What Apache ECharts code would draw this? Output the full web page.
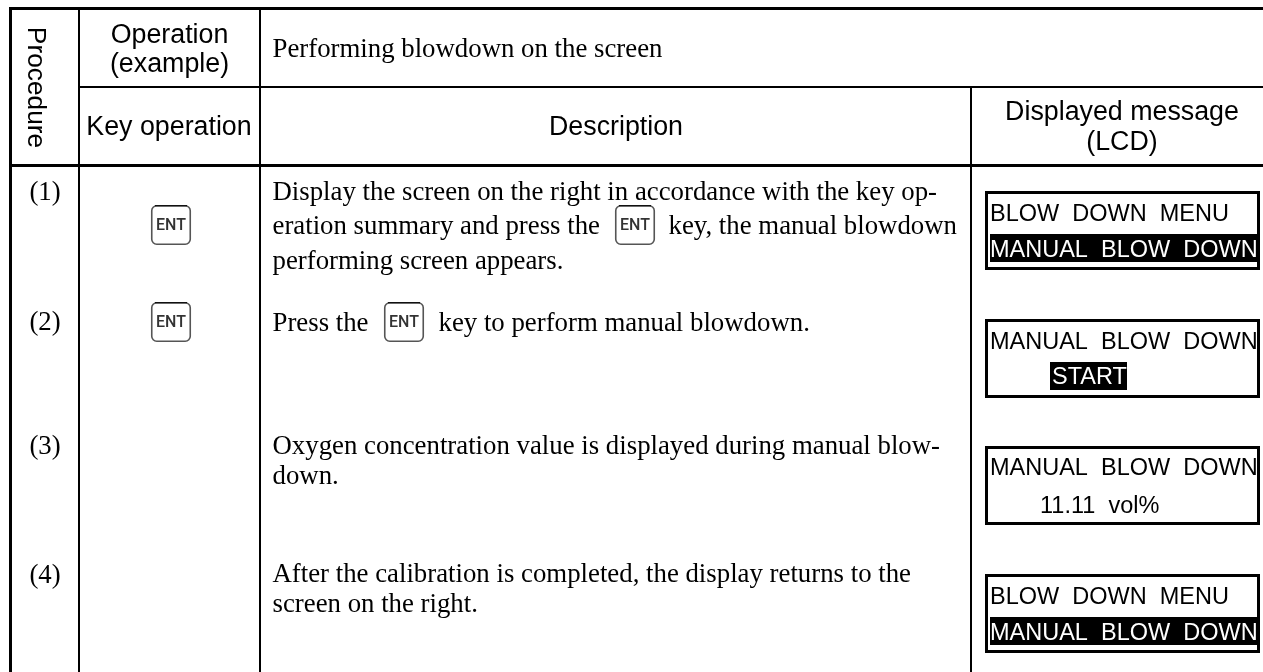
<!DOCTYPE html>
<html><head><meta charset="utf-8">
<style>html,body{margin:0;padding:0;background:#fff}#c{width:1263px;height:672px}</style>
<script src="https://cdn.jsdelivr.net/npm/echarts@6/dist/echarts.min.js"></script>
</head><body><div id="c"></div>
<script>
const procedureLabel = 'Procedure';
const operationHeader = ['Operation', '(example)'];
const keyHeader = 'Key operation';
const titleText = 'Performing blowdown on the screen';
const descHeader = 'Description';
const lcdHeader = ['Displayed message', '(LCD)'];
const stepLabels = ['(1)', '(2)', '(3)', '(4)'];
const keyLabel = 'ENT';
const step1Lines = ['Display the screen on the right in accordance with the key op-', 'eration summary and press the', 'key, the manual blowdown', 'performing screen appears.'];
const step2Parts = ['Press the', 'key to perform manual blowdown.'];
const step3Lines = ['Oxygen concentration value is displayed during manual blow-', 'down.'];
const step4Lines = ['After the calibration is completed, the display returns to the', 'screen on the right.'];
const lcdMenu = ['BLOW  DOWN  MENU', 'MANUAL  BLOW  DOWN'];
const lcdStart = ['MANUAL  BLOW  DOWN', 'START'];
const lcdValue = ['MANUAL  BLOW  DOWN', '11.11  vol%'];

const SANS = '"Liberation Sans", Arial, sans-serif';
const SERIF = '"Liberation Serif", "Times New Roman", serif';
const els = [];
function rect(x, y, w, h, fill) {
  els.push({type:'rect', shape:{x, y, width:w, height:h}, style:{fill}});
}
function text(t, x, y, o) {
  o = o || {};
  els.push({type:'text', x, y, rotation:o.rot||0, style:{text:t, fill:o.fill||'#000',
    font:(o.weight?o.weight+' ':'')+(o.size||26.8)+'px '+(o.family||SERIF),
    align:o.align||'left', verticalAlign:'middle'}});
}
const sans = (t,x,y,o)=>text(t,x,y,Object.assign({family:SANS,size:26.8},o||{}));
const lcd = (t,x,y,o)=>text(t,x,y,Object.assign({family:SANS,size:23.5},o||{}));

// grid lines
rect(0,7,1263,3,'#000');
rect(9,7,3,665,'#000');
rect(78,10,2,662,'#000');
rect(259,10,2,662,'#000');
rect(970,87,2,585,'#000');
rect(80,86,1183,2,'#000');
rect(9,164,1254,3,'#000');
els.push({type:'rect', shape:{x:0,y:0,width:9,height:672}, style:{fill:'#fff'}});

// headers
sans(procedureLabel, 35.3, 87.5, {rot:-Math.PI/2, align:'center', size:26.3});
sans(operationHeader[0], 169.5, 36, {align:'center'});
sans(operationHeader[1], 169.5, 64.7, {align:'center'});
sans(keyHeader, 169, 128, {align:'center'});
text(titleText, 272.5, 50);
sans(descHeader, 616, 128, {align:'center'});
sans(lcdHeader[0], 1122, 112.3, {align:'center'});
sans(lcdHeader[1], 1122, 143, {align:'center'});

// step numbers
[193, 323, 446.5, 575.5].forEach((y,i)=>text(stepLabels[i], 45, y, {align:'center'}));

// key glyph
function key(x, y) {
  els.push({type:'rect', shape:{x:x+.75, y:y+.75, width:38.5, height:38.5, r:5},
    style:{fill:'#fff', stroke:'#555', lineWidth:1.6}});
  els.push({type:'line', shape:{x1:x+4, y1:y+.7, x2:x+36, y2:y+.7}, style:{stroke:'#111', lineWidth:1.4}});
  text(keyLabel, x+20, y+21, {family:'Roboto, '+SANS, size:16, weight:500, fill:'#333', align:'center'});
}
key(151, 205); key(151, 302);
key(615, 205); key(384, 302);

// descriptions
text(step1Lines[0], 272.5, 192.5);
text(step1Lines[1], 272.5, 227);
text(step1Lines[2], 668.5, 227);
text(step1Lines[3], 272.5, 262);
text(step2Parts[0], 272.5, 323.5);
text(step2Parts[1], 438.5, 323.5);
text(step3Lines[0], 272.5, 446.5);
text(step3Lines[1], 272.5, 477);
text(step4Lines[0], 272.5, 575);
text(step4Lines[1], 272.5, 604.7);

// LCD panels
function panel(y, draw) {
  draw();
  rect(1257,y,3,79,'#000');
  rect(1260,y,3,79,'#fff');
  rect(985,y,275,3,'#000');
  rect(985,y+76,275,3,'#000');
  rect(985,y,3,79,'#000');
}
const menuPanel = (y)=>panel(y, ()=>{
  lcd(lcdMenu[0], 990, y+23.3);
  rect(990,y+43,267,28,'#000');
  lcd(lcdMenu[1], 990, y+59.5, {fill:'#fff'});
});
menuPanel(191);
panel(319, ()=>{
  lcd(lcdStart[0], 990, 342.3);
  rect(1050,362,77,28,'#000');
  lcd(lcdStart[1], 1052, 378, {fill:'#fff'});
});
panel(446, ()=>{
  lcd(lcdValue[0], 990, 469);
  lcd(lcdValue[1], 1040, 506.3);
});
menuPanel(574);

const chart = echarts.init(document.getElementById('c'), null, {renderer:'canvas'});
chart.setOption({animation:false, backgroundColor:'#fff', graphic:{elements:els}});
</script></body></html>
